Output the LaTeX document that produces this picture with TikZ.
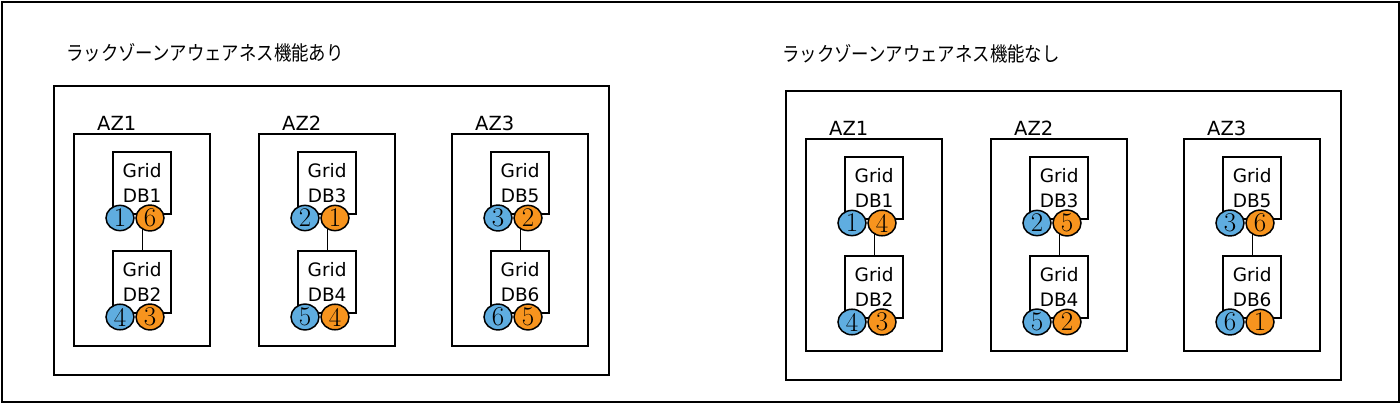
\documentclass[tikz,border=0pt]{standalone}
\usepackage{fontspec}
\newfontfamily\lab{DejaVu Sans}
\newfontfamily\jp{Noto Sans CJK JP}
\definecolor{blueC}{HTML}{5FADE0}
\definecolor{orangeC}{HTML}{F7941E}
\usetikzlibrary{shapes.geometric}
\tikzset{
  boxst/.style={draw=black, line width=2.3pt, fill=white, inner sep=0pt, anchor=north west},
  titletext/.style={inner sep=0pt, anchor=west, font=\jp\fontsize{20}{22}\selectfont},
  azlabel/.style={inner sep=0pt, anchor=base west, font=\lab\fontsize{19.5}{22}\selectfont},
  dbbox/.style={boxst, minimum width=58pt, minimum height=62pt, align=center, font=\lab\fontsize{18.5}{25}\selectfont},
  conn/.style={draw=black, line width=1.2pt},
  numc/.style={ellipse, draw=black, line width=1.5pt, minimum width=28pt, minimum height=25pt, inner sep=0pt, font=\fontsize{27}{27}\selectfont},
  bluec/.style={numc, fill=blueC},
  orangec/.style={numc, fill=orangeC}
}
\newcommand\mypanel[5]{%
\begin{scope}[shift={#2}]
  \node[titletext] (#1title) at #3 {\scalebox{0.87}[1]{#4}};
  \node[boxst, minimum width=555pt, minimum height=289pt] (#1panel) at (53,85) {};
  \foreach \a/\x/\ta/\tb/\ba/\bo/\ca/\co in {#5} {
    \node[boxst, minimum width=136pt, minimum height=212pt] (#1az\a) at (\x,133) {};
    \node[azlabel] (#1azl\a) at (\x+24,131) {AZ\a};
    \node[dbbox] (#1db\ta) at (\x+39,151) {Grid\\DB\ta};
    \node[dbbox] (#1db\tb) at (\x+39,250) {Grid\\DB\tb};
    \draw[conn] (#1db\ta.south) -- (#1db\tb.north);
    \node[bluec] (#1b\ta) at (\x+47,218) {\ba};
    \node[orangec] (#1o\ta) at (\x+77,218) {\bo};
    \node[bluec] (#1b\tb) at (\x+47,317) {\ca};
    \node[orangec] (#1o\tb) at (\x+77,317) {\co};
  }
\end{scope}}
\begin{document}
\begin{tikzpicture}[x=1pt, y=-1pt]
  \useasboundingbox (0,0) rectangle (1400,403);
  \node[draw=black, line width=2.3pt, minimum width=1397pt, minimum height=400pt, inner sep=0pt, anchor=north west] (frame) at (1,1) {};
  \mypanel{L}{(0,0)}{(66,53)}{ラックゾーンアウェアネス機能あり}{1/73/1/2/1/6/4/3, 2/258/3/4/2/1/5/4, 3/451/5/6/3/2/6/5}
  \mypanel{R}{(732,5)}{(50,49)}{ラックゾーンアウェアネス機能なし}{1/73/1/2/1/4/4/3, 2/258/3/4/2/5/5/2, 3/451/5/6/3/6/6/1}
\end{tikzpicture}
\end{document}
